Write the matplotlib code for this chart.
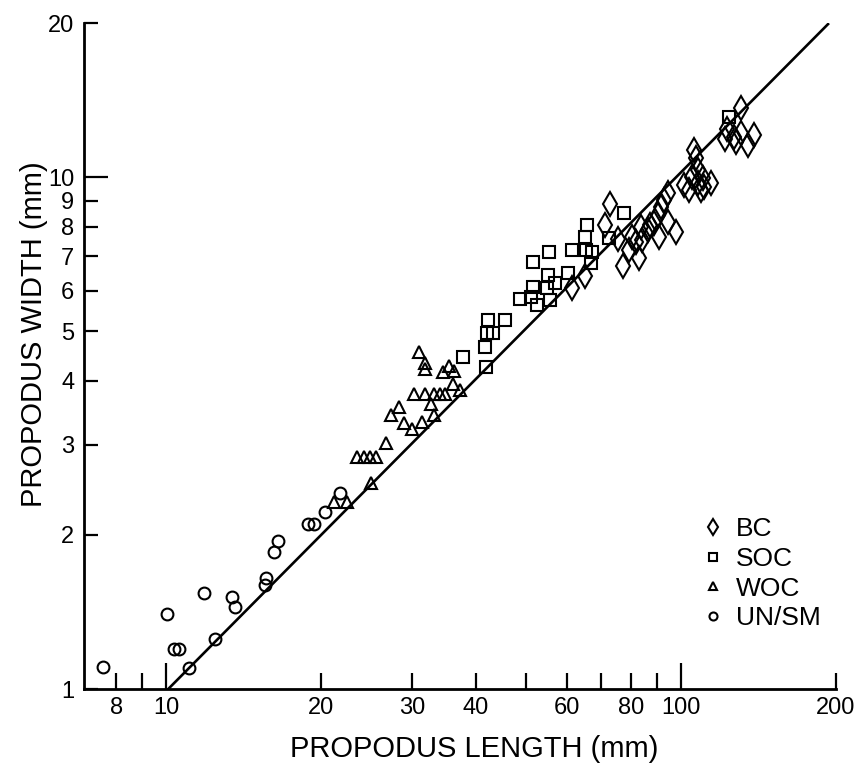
import matplotlib
matplotlib.use("Agg")
import matplotlib.pyplot as plt
from matplotlib.ticker import FixedLocator, FixedFormatter

plt.rcParams['font.family'] = ['Liberation Sans', 'DejaVu Sans']

# ---------------- data ----------------
bc_x = [61.4, 65.0, 71.2, 72.8, 75.4, 77.0, 79.3, 80.5, 81.7, 83.6, 84.0, 83.0,
        86.1, 87.1, 88.7, 90.1, 91.4, 92.8, 94.2, 94.2, 97.7, 90.7, 101.4, 103.7,
        104.9, 106.1, 106.9, 107.8, 107.8, 110.2, 109.4, 111.0, 114.4, 130.8,
        122.9, 121.8, 127.0, 130.8, 128.0, 134.8, 138.4]
bc_y = [6.06, 6.41, 8.06, 8.88, 7.56, 6.70, 7.20, 7.65, 7.48, 8.00, 7.53, 6.94,
        7.88, 8.06, 8.12, 8.43, 8.75, 9.02, 9.29, 8.18, 7.82, 7.65, 9.65, 9.43,
        10.0, 11.29, 10.88, 10.32, 9.72, 9.94, 9.43, 9.57, 9.72, 13.62,
        12.4, 11.85, 11.99, 12.17, 11.72, 11.55, 12.08]

soc_x = [37.8, 41.8, 41.6, 42.1, 43.1, 42.25, 45.5, 48.6, 51.2, 51.7, 52.5, 51.7,
         55.2, 55.0, 56.9, 55.7, 55.4, 60.4, 61.4, 65.0, 65.8, 65.5, 67.3, 66.8,
         72.4, 77.6, 124.2]
soc_y = [4.46, 4.26, 4.66, 4.97, 4.97, 5.27, 5.27, 5.77, 5.84, 6.11, 5.62, 6.83,
         6.44, 6.06, 6.20, 5.75, 7.15, 6.50, 7.22, 7.65, 8.06, 7.22, 7.15, 6.78,
         7.59, 8.52, 13.1]

woc_x = [21.2, 22.5, 23.5, 24.2, 24.86, 25.6, 25.0, 26.7, 27.3, 28.4, 28.95, 30.0,
         30.3, 31.0, 31.8, 31.9, 31.45, 31.9, 32.7, 33.1, 33.1, 34.0, 34.8, 34.5,
         35.5, 36.2, 36.06, 37.3]
woc_y = [2.32, 2.32, 2.84, 2.84, 2.84, 2.84, 2.53, 3.03, 3.43, 3.55, 3.31, 3.22,
         3.77, 4.56, 4.34, 4.21, 3.33, 3.77, 3.61, 3.43, 3.77, 3.77, 3.77, 4.17,
         4.27, 4.18, 3.95, 3.84]

unsm_x = [7.55, 10.03, 10.37, 10.6, 11.08, 11.85, 12.43, 13.44, 13.64, 15.54,
          15.61, 16.24, 16.47, 18.83, 19.34, 20.36, 21.74]
unsm_y = [1.105, 1.40, 1.195, 1.195, 1.10, 1.54, 1.254, 1.51, 1.444, 1.60,
          1.65, 1.85, 1.95, 2.10, 2.10, 2.22, 2.42]

line_x = [10.1, 193.0]
line_y = [1.0, 19.9]

x_major = [10, 100]
x_major_labels = ['10', '100']
x_minor = [8, 9, 20, 30, 40, 50, 60, 70, 80, 90, 200]
x_minor_labels = ['8', '', '20', '30', '40', '', '60', '', '80', '', '200']
y_major = [10]
y_major_labels = ['10']
y_minor = [1, 2, 3, 4, 5, 6, 7, 8, 9, 20]
y_minor_labels = ['1', '2', '3', '4', '5', '6', '7', '8', '9', '20']

# ---------------- figure ----------------
W, H = 860, 763
fig = plt.figure(figsize=(W / 100, H / 100), dpi=100)
ax = fig.add_axes([84 / W, 74 / H, (836 - 84) / W, (740 - 74) / H])
ax.set_xscale('log')
ax.set_yscale('log')
ax.set_xlim(6.93, 200)
ax.set_ylim(1, 20)

for s in ['top', 'right']:
    ax.spines[s].set_visible(False)
for s in ['left', 'bottom']:
    ax.spines[s].set_linewidth(2.0)

ax.plot(line_x, line_y, color='black', lw=1.9, zorder=2)

common = dict(linestyle='none', mfc='none', mec='black', mew=1.5, zorder=3)
h_bc, = ax.plot(bc_x, bc_y, marker='d', ms=12.5, label='BC', **common)
h_soc, = ax.plot(soc_x, soc_y, marker='s', ms=8, label='SOC', **common)
h_woc, = ax.plot(woc_x, woc_y, marker='^', ms=9, label='WOC', **common)
h_un, = ax.plot(unsm_x, unsm_y, marker='o', ms=8.5, label='UN/SM', **common)

ax.xaxis.set_major_locator(FixedLocator(x_major))
ax.xaxis.set_major_formatter(FixedFormatter(x_major_labels))
ax.xaxis.set_minor_locator(FixedLocator(x_minor))
ax.xaxis.set_minor_formatter(FixedFormatter(x_minor_labels))
ax.yaxis.set_major_locator(FixedLocator(y_major))
ax.yaxis.set_major_formatter(FixedFormatter(y_major_labels))
ax.yaxis.set_minor_locator(FixedLocator(y_minor))
ax.yaxis.set_minor_formatter(FixedFormatter(y_minor_labels))

ax.tick_params(axis='x', which='major', direction='in', length=19, width=1.6,
               labelsize=17, pad=6)
ax.tick_params(axis='x', which='minor', direction='in', length=11.5, width=1.6,
               labelsize=17, pad=6)
ax.tick_params(axis='y', which='major', direction='in', length=17, width=1.6,
               labelsize=17, pad=7)
ax.tick_params(axis='y', which='minor', direction='in', length=10, width=1.6,
               labelsize=17, pad=7)

fig.text(474 / W, 1 - 749 / H, 'PROPODUS LENGTH (mm)', fontsize=21,
         ha='center', va='center')
fig.text(34 / W, 1 - 334 / H, 'PROPODUS WIDTH (mm)', fontsize=21,
         ha='center', va='center', rotation=90)

leg = ax.legend(handles=[h_bc, h_soc, h_woc, h_un], loc='upper left',
                bbox_to_anchor=(704 / W, 1 - 517 / H),
                bbox_transform=fig.transFigure, frameon=False, fontsize=19,
                markerscale=0.68, handlelength=0.7, handletextpad=0.5,
                labelspacing=0.22, borderpad=0, borderaxespad=0)

fig.savefig('out.png', dpi=100)
